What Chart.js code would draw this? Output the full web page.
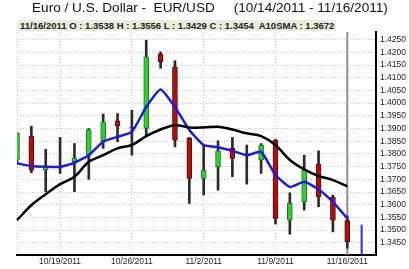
<!DOCTYPE html>
<html>
<head>
<meta charset="utf-8">
<script src="https://cdn.jsdelivr.net/npm/chart.js@4/dist/chart.umd.min.js"></script>
<style>
  body { margin: 0; background: #fff; }
  #wrap { position: relative; width: 409px; height: 269px; }
  #title {
    position: absolute; left: 32px; top: 0px;
    font: 13.6px "Liberation Sans", Arial, sans-serif; color: #111;
    white-space: pre;
  }
  #info {
    position: absolute; left: 18px; top: 20px; height: 11px;
    padding: 0 2px; background: #ecebdc;
    font: bold 9.5px "Liberation Sans", Arial, sans-serif; line-height: 11px; color: #222;
    white-space: pre;
  }
  canvas { position: absolute; left: 0; top: 0; }
</style>
</head>
<body>
<div id="wrap">
  <canvas id="priceChart" width="409" height="269"></canvas>
  <div id="title">Euro / U.S. Dollar -  EUR/USD     (10/14/2011 - 11/16/2011)</div>
  <div id="info">11/16/2011 O : 1.3538 H : 1.3556 L : 1.3429 C : 1.3454  A10SMA : 1.3672</div>
</div>
<script>
// trading days shown on the x axis (last two are the partial / empty slots)
const dates = [
  "10/14/2011", "10/17/2011", "10/18/2011", "10/19/2011", "10/20/2011", "10/21/2011",
  "10/24/2011", "10/25/2011", "10/26/2011", "10/27/2011", "10/28/2011",
  "10/31/2011", "11/1/2011", "11/2/2011", "11/3/2011", "11/4/2011",
  "11/7/2011", "11/8/2011", "11/9/2011", "11/10/2011", "11/11/2011",
  "11/14/2011", "11/15/2011", "11/16/2011", "11/17/2011", "11/18/2011"
];
const xTickLabels = ["10/19/2011", "10/26/2011", "11/2/2011", "11/9/2011", "11/16/2011"];

const opens  = [1.3776, 1.3870, 1.3737, 1.3749, 1.3769, 1.3795, 1.3852, 1.3930, 1.3904, 1.3900, 1.4193, 1.4143, 1.3861, 1.3704, 1.3749, 1.3822, 1.3797, 1.3776, 1.3854, 1.3539, 1.3611, 1.3760, 1.3629, 1.3538];
const highs  = [1.3883, 1.3909, 1.3818, 1.3865, 1.3841, 1.3900, 1.3957, 1.3959, 1.3972, 1.4248, 1.4202, 1.4167, 1.3865, 1.3835, 1.3852, 1.3865, 1.3835, 1.3841, 1.3857, 1.3647, 1.3795, 1.3812, 1.3638, 1.3556];
const lows   = [1.3764, 1.3726, 1.3651, 1.3723, 1.3651, 1.3700, 1.3822, 1.3848, 1.3795, 1.3867, 1.4137, 1.3828, 1.3605, 1.3638, 1.3657, 1.3710, 1.3681, 1.3723, 1.3524, 1.3484, 1.3579, 1.3592, 1.3493, 1.3429];
const closes = [1.3881, 1.3736, 1.3749, 1.3747, 1.3785, 1.3896, 1.3926, 1.3911, 1.3902, 1.4182, 1.4163, 1.3854, 1.3704, 1.3736, 1.3812, 1.3782, 1.3793, 1.3835, 1.3546, 1.3605, 1.3736, 1.3631, 1.3539, 1.3454];

// A10SMA (black) and short average (blue)
const sma10 = [1.3539, 1.3598, 1.3641, 1.3681, 1.3710, 1.3769, 1.3795, 1.3822, 1.3835, 1.3870, 1.3896, 1.3913, 1.3904, 1.3904, 1.3907, 1.3896, 1.3881, 1.3870, 1.3835, 1.3776, 1.3739, 1.3713, 1.3697, 1.3672];
const smaShort = [1.3763, 1.3752, 1.3749, 1.3749, 1.3765, 1.3795, 1.3848, 1.3867, 1.3887, 1.3985, 1.4054, 1.3985, 1.3894, 1.3835, 1.3826, 1.3812, 1.3795, 1.3808, 1.3717, 1.3670, 1.3690, 1.3660, 1.3611, 1.3546];

// today's partial bar (11/17)
const liveBar = [1.3402, 1.3520];

const yMin = 1.3402;
const yMax = 1.4280;
const yStep = 0.005;
const cursorDate = "11/16/2011";

const wicks = lows.map((l, i) => [l, highs[i]]);
const bodies = opens.map((o, i) => [o, closes[i]]);
const bodyColors = opens.map((o, i) => (closes[i] >= o ? "#33cc33" : "#aa1111"));
const bodyBorders = opens.map((o, i) => (closes[i] >= o ? "#1f7a1f" : "#5a0a0a"));
const liveData = dates.map((d, i) => (i === 24 ? liveBar : null));

// gray crosshair on the selected day
const cursorPlugin = {
  id: "cursor",
  beforeDatasetsDraw(chart) {
    const x = chart.scales.x.getPixelForValue(dates.indexOf(cursorDate));
    const area = chart.chartArea;
    const ctx = chart.ctx;
    ctx.save();
    ctx.strokeStyle = "#8c8c8c";
    ctx.lineWidth = 2;
    ctx.beginPath();
    ctx.moveTo(x, area.top);
    ctx.lineTo(x, area.bottom);
    ctx.stroke();
    ctx.restore();
  }
};

function initChart() {
  const ctx = document.getElementById("priceChart").getContext("2d");
  new Chart(ctx, {
    type: "bar",
    data: {
      labels: dates,
      datasets: [
        {
          type: "line",
          label: "A10SMA",
          data: sma10,
          borderColor: "#000000",
          borderWidth: 2.5,
          pointRadius: 0,
          tension: 0.35,
          order: 0
        },
        {
          type: "line",
          label: "Short SMA",
          data: smaShort,
          borderColor: "#1a1ae6",
          borderWidth: 2.5,
          pointRadius: 0,
          tension: 0.15,
          order: 0
        },
        {
          label: "Body",
          data: bodies,
          backgroundColor: bodyColors,
          borderColor: bodyBorders,
          borderWidth: 1,
          borderSkipped: false,
          barThickness: 5,
          grouped: false,
          order: 1
        },
        {
          label: "Wick",
          data: wicks,
          backgroundColor: "#2b2b2b",
          barThickness: 2,
          grouped: false,
          order: 2
        },
        {
          label: "Live",
          data: liveData,
          backgroundColor: "#2a3fd0",
          barThickness: 1.5,
          grouped: false,
          order: 2
        }
      ]
    },
    options: {
      responsive: false,
      devicePixelRatio: 1,
      animation: false,
      layout: { padding: { left: 17, top: 32, right: 0, bottom: 0 } },
      plugins: {
        legend: { display: false },
        tooltip: { enabled: false }
      },
      scales: {
        x: {
          offset: false,
          grid: {
            offset: false,
            drawTicks: false,
            color: (c) => (c.index === 0 || xTickLabels.includes(dates[c.index]) ? "#c4c4c4" : "rgba(0,0,0,0)"),
            lineWidth: 1
          },
          border: { color: "#000", width: 2, dash: [1, 2] },
          ticks: {
            autoSkip: false,
            maxRotation: 0,
            padding: 2,
            color: "#222",
            font: { family: "Liberation Sans", size: 8.5 },
            callback: function (val) {
              const label = this.getLabelForValue(val);
              return xTickLabels.includes(label) ? label : "";
            }
          },
          afterFit: (scale) => { scale.height = 14; }
        },
        y: {
          position: "right",
          min: yMin,
          max: yMax,
          grid: { drawTicks: false, color: "#c4c4c4", lineWidth: 1 },
          border: { color: "#000", width: 2, dash: [1, 2] },
          ticks: {
            stepSize: yStep,
            includeBounds: false,
            autoSkip: false,
            padding: 4,
            color: "#222",
            font: { family: "Liberation Sans", size: 8.5 },
            callback: (v) => v.toFixed(4)
          },
          afterFit: (scale) => { scale.width = 33; }
        }
      }
    },
    plugins: [cursorPlugin]
  });
}

window.onload = function () {
  initChart();
};
</script>
</body>
</html>
